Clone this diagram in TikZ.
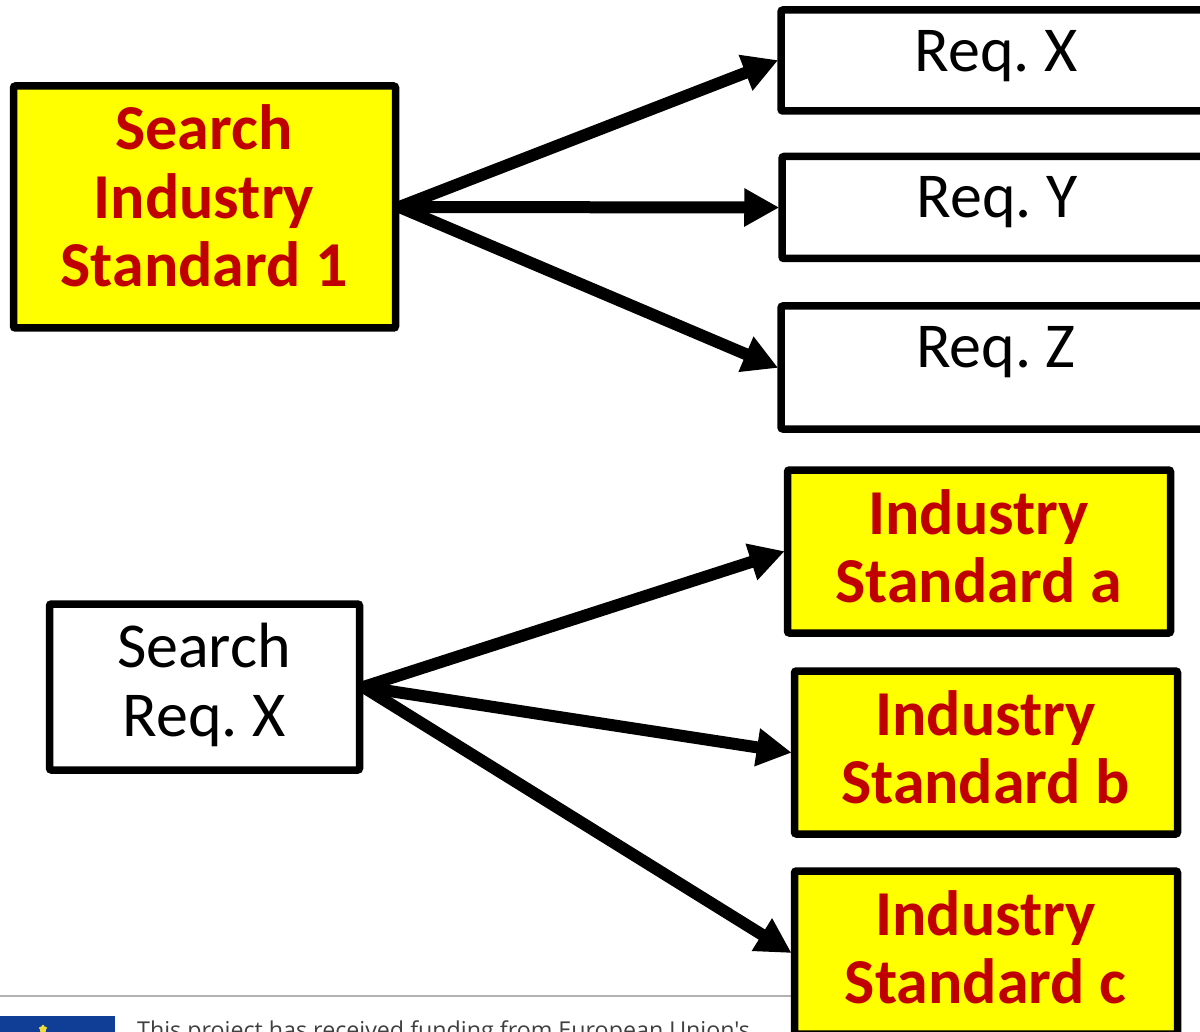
\documentclass[tikz,border=0pt]{standalone}
\usepackage{fontspec}
\setmainfont{Carlito}
\newfontfamily\footfont{Open Sans}
\usetikzlibrary{arrows.meta,shapes.geometric}
\definecolor{stdred}{RGB}{192,0,0}
\definecolor{stdyellow}{RGB}{255,255,0}
\definecolor{eublue}{RGB}{16,62,150}
\definecolor{stary}{RGB}{240,220,60}
\tikzset{
  basebox/.style={draw=black,line width=7.5pt,rounded corners=2pt,anchor=center,inner sep=0pt},
  plainbox/.style={basebox,fill=white},
  stdbox/.style={basebox,fill=stdyellow},
  plaintxt/.style={font=\fontsize{64}{68.5}\selectfont,text=black,align=center,inner sep=0pt},
  stdtxt/.style={font=\fontsize{64}{68.5}\selectfont\bfseries,text=stdred,align=center,inner sep=0pt},
  conn/.style={draw=black,line width=12pt,-{Triangle[length=35pt,width=36pt]},shorten >=-1pt},
}
\begin{document}
\frenchspacing
\begin{tikzpicture}[x=1pt,y=-1pt]
\useasboundingbox (0,0) rectangle (1200,1032);
\clip (0,0) rectangle (1200,1032);
\fill[white] (0,0) rectangle (1200,1032);
% footer
\coordinate (ruleL) at (0,996);
\coordinate (ruleR) at (800,996);
\draw[draw=black!30,line width=1.5pt] (ruleL) -- (ruleR);
\fill[eublue] (0,1016) rectangle (115,1040);
\node[star,star points=5,fill=stary,inner sep=0pt,minimum size=9pt] (eustar) at (43,1029) {};
\node[anchor=base west,inner sep=0pt,text=black!75,font=\footfont\fontsize{23.25}{26}\selectfont] (foot) at (137,1038.5) {This project has received funding from European Union's};
% boxes
\node[stdbox,minimum width=382pt,minimum height=242pt] (s1) at (204.5,207) {};
\node[plainbox,minimum width=440pt,minimum height=101pt] (rx) at (1001,60.5) {};
\node[plainbox,minimum width=440pt,minimum height=102pt] (ry) at (1002,207.5) {};
\node[plainbox,minimum width=440pt,minimum height=123pt] (rz) at (1001,367.5) {};
\node[plainbox,minimum width=310pt,minimum height=166pt] (sx) at (204.5,687) {};
\node[stdbox,minimum width=383pt,minimum height=163pt] (a) at (979,551.5) {};
\node[stdbox,minimum width=383pt,minimum height=163pt] (b) at (986,752.5) {};
\node[stdbox,minimum width=383pt,minimum height=163pt] (c) at (986,952.5) {};
% texts
\node[stdtxt] (s1t) at (204,196) {Search\\Industry\\Standard 1};
\node[plaintxt] (rxt) at (996,56.5) {Req. X};
\node[plaintxt] (ryt) at (997,202.5) {Req. Y};
\node[plaintxt] (rzt) at (996,352.5) {Req. Z};
\node[plaintxt] (sxt) at (204,685) {Search\\Req. X};
\node[stdtxt] (at) at (978.5,546.5) {Industry\\Standard a};
\node[stdtxt] (bt) at (985.5,747.5) {Industry\\Standard b};
\node[stdtxt] (ct) at (985.5,947.5) {Industry\\Standard c};
% connectors
\draw[conn] (s1.east) -- (rx.west);
\draw[conn] (s1.east) -- (ry.west);
\draw[conn] (s1.east) -- (rz.west);
\draw[conn] (sx.east) -- (a.west);
\draw[conn] (sx.east) -- (b.west);
\draw[conn] (sx.east) -- (c.west);
\end{tikzpicture}
\end{document}
